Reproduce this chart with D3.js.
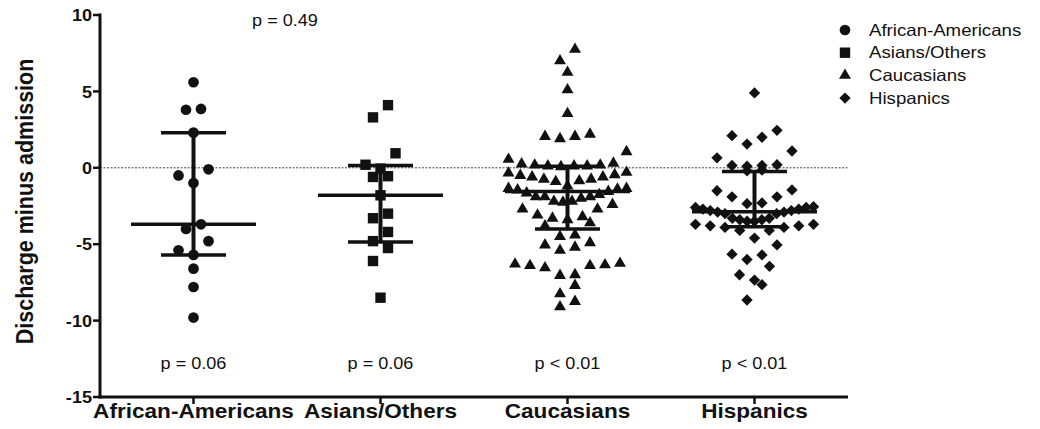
<!DOCTYPE html>
<html>
<head>
<meta charset="utf-8">
<script src="https://cdn.jsdelivr.net/npm/d3@7"></script>
<style>
  body { margin: 0; background: #fff; }
  text { font-family: Arial, "Liberation Sans", sans-serif; fill: #111; }
</style>
</head>
<body>
<svg id="chart" width="1040" height="429"></svg>
<script>
const groups = ['African-Americans', 'Asians/Others', 'Caucasians', 'Hispanics'];

const africanAmericans = [5.6, 3.85, 3.8, 2.3, -0.1, -0.5, -1.0, -3.7, -4.0, -4.8, -5.4, -5.7, -6.6, -7.8, -9.8];
const asiansOthers = [4.1, 3.3, 0.95, 0.2, -0.05, -0.55, -0.6, -1.8, -3.0, -3.3, -4.2, -4.8, -5.25, -6.1, -8.5];
const caucasians = [
  7.75, 7.0, 6.25, 5.1, 3.55, 2.2, 2.05, 2.05, 1.9, 1.05, 0.55,
  0.07, 0.12, 0.25, 0.18, 0.18, 0.3, 0.12, 0.12,
  -0.3, -0.45, -0.6, -0.75, -0.85, -0.9, -0.75, -0.6, -0.5, -0.35,
  -1.35, -1.4, -1.55, -1.75, -1.9, -2.0, -2.2, -2.2, -1.9, -1.9, -1.65, -1.45, -1.35, -1.2,
  -2.25, -2.4, -2.7, -2.7, -3.1, -3.2, -3.3, -3.4, -3.6, -3.8,
  -4.4, -4.5, -4.9, -5.05, -5.2, -5.4,
  -6.25, -6.3, -6.35, -6.4, -6.4, -6.55, -7.0, -7.05,
  -7.7, -8.25, -8.75, -9.1,
];
const hispanics = [
  4.9, 2.45, 2.1, 2.0, 1.55, 1.1, 0.65, 0.2, 0.15, 0.15, 0.1, -0.15, -0.2,
  -1.45, -1.5, -1.9, -1.9, -2.3, -2.35, -2.55,
  -2.6, -2.7, -2.8, -2.9, -3.0, -3.0, -2.9, -2.8, -2.7, -2.6,
  -3.3, -3.4, -3.5, -3.5, -3.4, -3.3,
  -3.7, -3.8, -3.9, -4.1, -4.1, -3.9, -3.8, -3.7,
  -4.6, -5.05, -5.65, -5.7, -6.0, -6.45, -7.0, -7.35, -7.65, -8.65,
];

// median and interquartile range
const medians = [-3.7, -1.8, -1.55, -2.87];
const lowerQuartiles = [-5.7, -4.85, -4.0, -3.85];
const upperQuartiles = [2.3, 0.15, 0.1, -0.25];

const groupPValues = ['p = 0.06', 'p = 0.06', 'p < 0.01', 'p < 0.01'];
const overallPValue = 'p = 0.49';
const yTicks = [-15, -10, -5, 0, 5, 10];
const yTitle = 'Discharge minus admission';

const series = [africanAmericans, asiansOthers, caucasians, hispanics];

const margin = { top: 15, right: 192, bottom: 32, left: 100 };
const width = 1040 - margin.left - margin.right;
const height = 429 - margin.top - margin.bottom;
const stretch = 1.13; // the source figure is a little wide

const svg = d3.select('#chart');

const x = d3.scaleBand().domain(groups).range([margin.left, margin.left + width]);
const y = d3.scaleLinear().domain([-15, 10]).range([margin.top + height, margin.top]);

const symbols = [
  d3.symbol().type(d3.symbolCircle).size(90),
  d3.symbol().type(d3.symbolSquare).size(108),
  d3.symbol().type(d3.symbolTriangle).size(62),
  d3.symbol().type(d3.symbolSquare).size(64),
];
const rotations = [0, 0, 0, 45];

function addText(sel, tx, ty, str, opts) {
  const t = sel.append('text')
    .attr('transform', `translate(${tx},${ty}) scale(${stretch},1)${opts.rotate ? ` rotate(${opts.rotate})` : ''}`)
    .attr('text-anchor', opts.anchor || 'middle')
    .style('font-size', `${opts.size}px`)
    .style('font-weight', opts.bold ? 'bold' : 'normal')
    .text(str);
  if (opts.middle) t.attr('dominant-baseline', 'central');
  return t;
}

// spread points with close values into rows, lowest values in the middle
function swarm(values) {
  const binSize = 1.0;
  const sorted = values.slice().sort((a, b) => b - a);
  const bins = [];
  let cur = null;
  sorted.forEach((v) => {
    if (!cur || cur.top - v > binSize) {
      cur = { top: v, vals: [] };
      bins.push(cur);
    }
    cur.vals.push(v);
  });
  const out = [];
  bins.forEach((b) => {
    const vals = b.vals.slice().sort((p, q) => p - q);
    const n = vals.length;
    const step = n > 1 ? Math.min(15, 118 / (n - 1)) : 0;
    const slots = d3.range(n).map(i => (i - (n - 1) / 2) * step);
    slots.sort((p, q) => Math.abs(p) - Math.abs(q) || p - q);
    vals.forEach((v, i) => out.push({ v, dx: slots[i] }));
  });
  return out;
}

// zero reference line
svg.append('line')
  .attr('x1', margin.left).attr('x2', margin.left + width)
  .attr('y1', y(0)).attr('y2', y(0))
  .attr('stroke', '#444')
  .attr('stroke-width', 1)
  .attr('stroke-dasharray', '2,1.5');

// points
series.forEach((vals, gi) => {
  const cx = x(groups[gi]) + x.bandwidth() / 2;
  svg.append('g')
    .selectAll('path')
    .data(swarm(vals))
    .enter()
    .append('path')
    .attr('d', symbols[gi]())
    .attr('transform', d => `translate(${cx + d.dx},${y(d.v)}) rotate(${rotations[gi]})`)
    .attr('fill', '#111');
});

// median with interquartile range
const bars = svg.append('g').attr('stroke', '#111').attr('stroke-linecap', 'butt');
groups.forEach((g, gi) => {
  const cx = x(g) + x.bandwidth() / 2;
  bars.append('line')
    .attr('x1', cx).attr('x2', cx)
    .attr('y1', y(lowerQuartiles[gi])).attr('y2', y(upperQuartiles[gi]))
    .attr('stroke-width', 4);
  [lowerQuartiles[gi], upperQuartiles[gi]].forEach((q) => {
    bars.append('line')
      .attr('x1', cx - 32.5).attr('x2', cx + 32.5)
      .attr('y1', y(q)).attr('y2', y(q))
      .attr('stroke-width', 3.5);
  });
  bars.append('line')
    .attr('x1', cx - 62.5).attr('x2', cx + 62.5)
    .attr('y1', y(medians[gi])).attr('y2', y(medians[gi]))
    .attr('stroke-width', 3.5);
});

// axes
const yAxis = svg.append('g');
yAxis.append('line')
  .attr('x1', margin.left).attr('x2', margin.left)
  .attr('y1', y(10) - 1.5).attr('y2', y(-15) + 1.5)
  .attr('stroke', '#111').attr('stroke-width', 3);
yTicks.forEach((t) => {
  yAxis.append('line')
    .attr('x1', margin.left - 7).attr('x2', margin.left)
    .attr('y1', y(t)).attr('y2', y(t))
    .attr('stroke', '#111').attr('stroke-width', 2.5);
  addText(yAxis, margin.left - 8, y(t) + 1, t, { anchor: 'end', size: 16, bold: true, middle: true });
});

const xAxis = svg.append('g');
xAxis.append('line')
  .attr('x1', margin.left - 1.5).attr('x2', margin.left + width)
  .attr('y1', y(-15)).attr('y2', y(-15))
  .attr('stroke', '#111').attr('stroke-width', 3);
groups.forEach((g, gi) => {
  const cx = x(g) + x.bandwidth() / 2;
  xAxis.append('line')
    .attr('x1', cx).attr('x2', cx)
    .attr('y1', y(-15)).attr('y2', y(-15) + 7)
    .attr('stroke', '#111').attr('stroke-width', 2.5);
  addText(xAxis, cx, 418, g, { size: 20, bold: true });
  addText(svg, cx, 369, groupPValues[gi], { size: 16 });
});

addText(svg, 33, y(-2.2), yTitle, { size: 21.5, bold: true, rotate: -90 });
addText(svg, 285, 26, overallPValue, { size: 16 });

// legend
const legend = svg.append('g');
groups.forEach((g, gi) => {
  const ly = 30 + gi * 22.7;
  legend.append('path')
    .attr('d', symbols[gi]())
    .attr('transform', `translate(845,${ly}) rotate(${rotations[gi]})`)
    .attr('fill', '#111');
  addText(legend, 869, ly, g, { anchor: 'start', size: 16.5, middle: true });
});
</script>
</body>
</html>
